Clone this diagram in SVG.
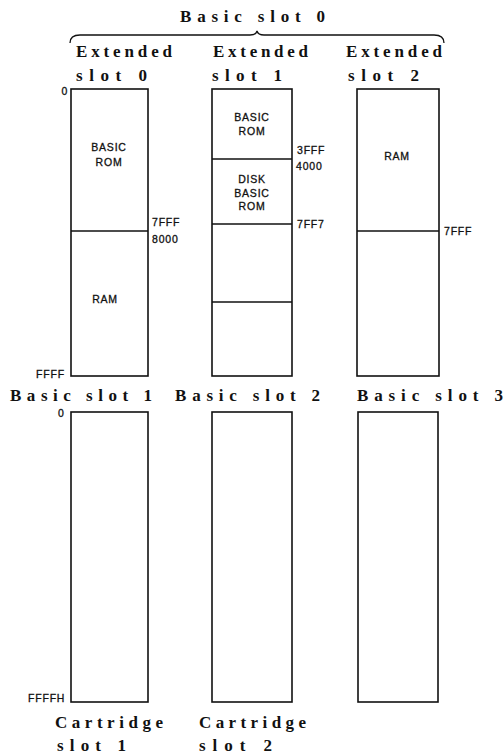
<svg xmlns="http://www.w3.org/2000/svg" width="504" height="755" viewBox="0 0 504 755">
<style>
.box{fill:#fff;stroke:#111;stroke-width:1.6}
.div{stroke:#111;stroke-width:1.3}
.big{font-family:"Liberation Serif","Times New Roman",serif;font-size:17px;font-weight:bold;fill:#111}
.sm{font-family:"Liberation Sans",Arial,sans-serif;font-size:10.5px;fill:#111;letter-spacing:0.8px;stroke:#111;stroke-width:0.3}
.c{text-anchor:middle}
</style>
<rect width="504" height="755" fill="#fff"/>
<g id="title">
<text class="big" x="180" y="22" textLength="145" lengthAdjust="spacing">Basic slot 0</text>
</g>
<g id="connectors">
<path d="M70,43 Q70,35 80,35 L250,35 Q256,35 257,31 Q258,35 264,35 L434,35 Q444,35 444,43" fill="none" stroke="#111" stroke-width="1.3"/>
</g>
<g id="ext0">
<text class="big" x="76" y="57" textLength="96" lengthAdjust="spacing">Extended</text>
<text class="big" x="76" y="81" textLength="71" lengthAdjust="spacing">slot 0</text>
<rect class="box" x="71" y="89" width="77" height="287"/>
<line class="div" x1="71" y1="231" x2="148" y2="231"/>
<text class="sm" x="61.5" y="95" font-size="9">0</text>
<text class="sm c" x="109" y="151">BASIC</text>
<text class="sm c" x="109" y="166">ROM</text>
<text class="sm" x="152" y="226">7FFF</text>
<text class="sm" x="152" y="243">8000</text>
<text class="sm c" x="105" y="303">RAM</text>
<text class="sm" x="36" y="378">FFFF</text>
</g>
<g id="ext1">
<text class="big" x="213" y="57" textLength="95" lengthAdjust="spacing">Extended</text>
<text class="big" x="212" y="81" textLength="70" lengthAdjust="spacing">slot 1</text>
<rect class="box" x="212" y="89" width="80" height="287"/>
<line class="div" x1="212" y1="159" x2="292" y2="159"/>
<line class="div" x1="212" y1="224" x2="292" y2="224"/>
<line class="div" x1="212" y1="302" x2="292" y2="302"/>
<text class="sm c" x="252" y="121">BASIC</text>
<text class="sm c" x="252" y="135">ROM</text>
<text class="sm" x="297" y="154">3FFF</text>
<text class="sm" x="296" y="170">4000</text>
<text class="sm c" x="252" y="183">DISK</text>
<text class="sm c" x="252" y="197">BASIC</text>
<text class="sm c" x="252" y="210">ROM</text>
<text class="sm" x="297" y="228">7FF7</text>
</g>
<g id="ext2">
<text class="big" x="346" y="57" textLength="96" lengthAdjust="spacing">Extended</text>
<text class="big" x="348" y="81" textLength="71" lengthAdjust="spacing">slot 2</text>
<rect class="box" x="357" y="89" width="82" height="287"/>
<line class="div" x1="357" y1="231" x2="439" y2="231"/>
<text class="sm c" x="397" y="160">RAM</text>
<text class="sm" x="444" y="235">7FFF</text>
</g>
<g id="basic1">
<text class="big" x="10" y="401" textLength="142" lengthAdjust="spacing">Basic slot 1</text>
<rect class="box" x="71" y="412" width="77" height="290"/>
<text class="sm" x="58" y="417" font-size="9">0</text>
<text class="sm" x="28" y="702" font-size="9.5">FFFFH</text>
<text class="big" x="55" y="728" textLength="108" lengthAdjust="spacing">Cartridge</text>
<text class="big" x="57" y="751" textLength="69" lengthAdjust="spacing">slot 1</text>
</g>
<g id="basic2">
<text class="big" x="175" y="401" textLength="145" lengthAdjust="spacing">Basic slot 2</text>
<rect class="box" x="212" y="412" width="80" height="290"/>
<text class="big" x="199" y="728" textLength="107" lengthAdjust="spacing">Cartridge</text>
<text class="big" x="199" y="751" textLength="73" lengthAdjust="spacing">slot 2</text>
</g>
<g id="basic3">
<text class="big" x="357" y="401" textLength="146" lengthAdjust="spacing">Basic slot 3</text>
<rect class="box" x="358" y="412" width="80" height="290"/>
</g>
</svg>
